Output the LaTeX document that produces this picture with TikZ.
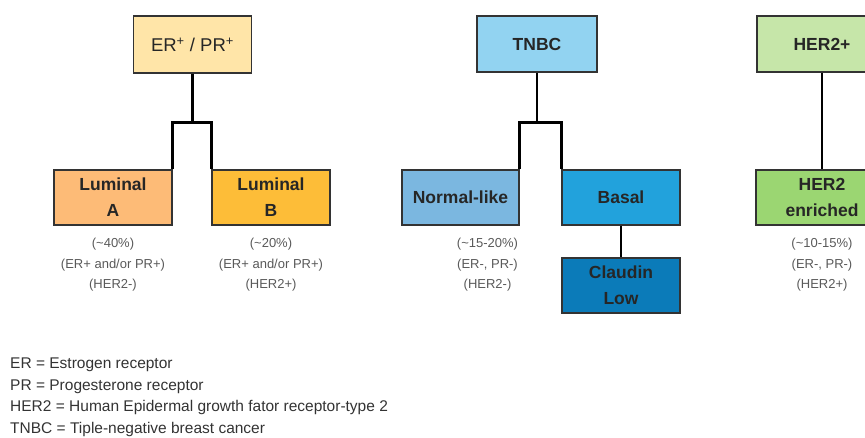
\documentclass[tikz,border=0pt]{standalone}
\usepackage{fontspec}
\setmainfont{Liberation Sans}
\usetikzlibrary{positioning}

\definecolor{erprfill}{HTML}{FFE5A8}
\definecolor{lumafill}{HTML}{FDBB77}
\definecolor{lumbfill}{HTML}{FDBD38}
\definecolor{tnbcfill}{HTML}{92D3F1}
\definecolor{normfill}{HTML}{7BB7E0}
\definecolor{basalfill}{HTML}{22A2DC}
\definecolor{claudfill}{HTML}{0B7BB9}
\definecolor{herfill}{HTML}{C6E6A9}
\definecolor{herenrfill}{HTML}{9BD672}

\tikzset{
  subtype/.style={draw=black!80, line width=1.2pt, minimum width=118pt, minimum height=55pt,
    inner sep=0pt, align=center, text=black!85,
    font=\fontsize{17.5}{26}\selectfont\bfseries},
  branch/.style={line width=2.8pt, line join=miter},
  note/.style={align=center, text=black!65, font=\fontsize{13}{20.5}\selectfont},
  legend/.style={anchor=base west, inner sep=0pt, text=black!80, font=\fontsize{15.5}{18}\selectfont}
}

\begin{document}
\begin{tikzpicture}[x=1pt, y=-1pt]
  \useasboundingbox (0,0) rectangle (865,437);
  \clip (0,0) rectangle (865,437);

  \node[subtype, fill=erprfill, minimum height=57pt, font=\fontsize{18.5}{26}\selectfont] (erpr) at (192.5,44.5) {ER\textsuperscript{+} / PR\textsuperscript{+}};
  \node[subtype, fill=lumafill] (luma) at (113,197.5) {Luminal\\A};
  \node[subtype, fill=lumbfill] (lumb) at (271,197.5) {Luminal\\B};
  \node[note, below=9pt of luma] (lumanote) {(\textasciitilde40\%)\\(ER+ and/or PR+)\\(HER2-)};
  \node[note, below=9pt of lumb] (lumbnote) {(\textasciitilde20\%)\\(ER+ and/or PR+)\\(HER2+)};

  \node[subtype, fill=tnbcfill, minimum width=120pt, minimum height=56pt] (tnbc) at (537,44) {TNBC};
  \node[subtype, fill=normfill, minimum width=117pt] (normal) at (460.5,197.5) {Normal-like};
  \node[subtype, fill=basalfill] (basal) at (621,197.5) {Basal};
  \node[subtype, fill=claudfill] (claudin) at (621,285.5) {Claudin\\Low};
  \node[note, below=9pt of normal, xshift=27pt] (normalnote) {(\textasciitilde15-20\%)\\(ER-, PR-)\\(HER2-)};

  \node[subtype, fill=herfill, minimum width=130pt, minimum height=56pt] (her2) at (822,44) {HER2+};
  \node[subtype, fill=herenrfill, minimum width=132pt] (her2enr) at (822,197.5) {HER2\\enriched};
  \node[note, below=9pt of her2enr] (her2note) {(\textasciitilde10-15\%)\\(ER-, PR-)\\(HER2+)};

  \draw[branch] (erpr.south) -- ++(0,49) coordinate (erprfork);
  \draw[branch] (luma.north east) |- (erprfork) -| (lumb.north west);
  \draw[branch] (tnbc.south) -- ++(0,50) coordinate (tnbcfork);
  \draw[branch] (normal.north east) |- (tnbcfork) -| (basal.north west);
  \draw[branch] (basal.south) -- (claudin.north);
  \draw[branch] (her2.south) -- (her2enr.north);

  \node[legend] (legER) at (10,368) {ER = Estrogen receptor};
  \node[legend] (legPR) at (10,390) {PR = Progesterone receptor};
  \node[legend] (legHER) at (10,411) {HER2 = Human Epidermal growth fator receptor-type 2};
  \node[legend] (legTNBC) at (10,433) {TNBC = Tiple-negative breast cancer};
\end{tikzpicture}
\end{document}
